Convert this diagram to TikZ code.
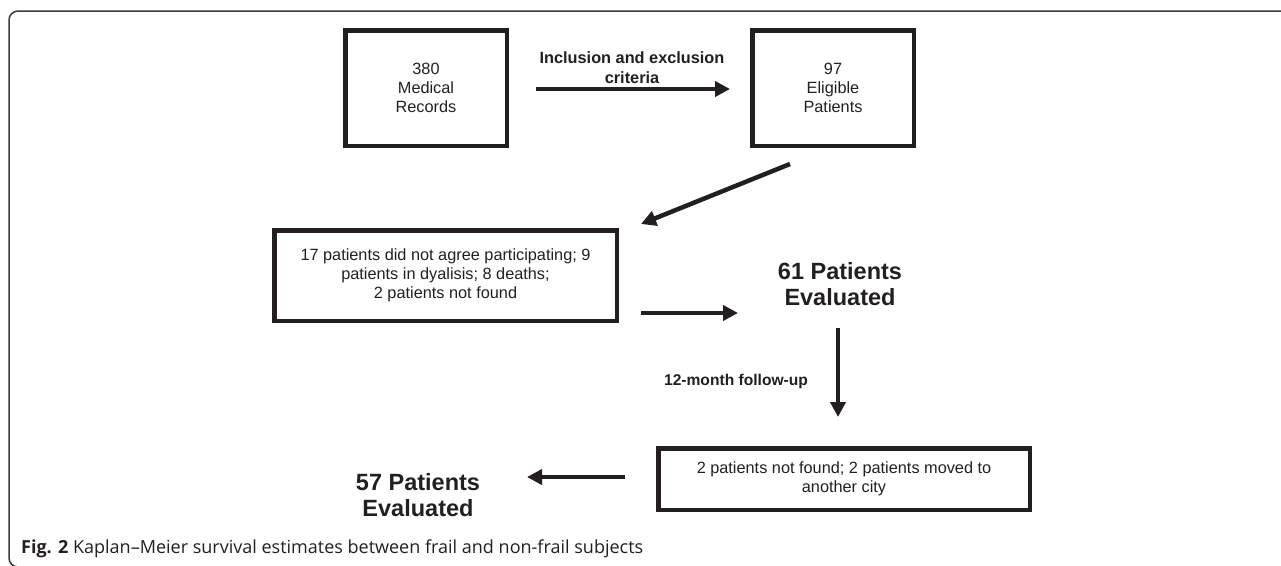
\documentclass[tikz,border=0pt]{standalone}
\usepackage{fontspec}
\setmainfont{Liberation Sans}
\newfontfamily\capfont{Open Sans}
\usetikzlibrary{arrows.meta}
\definecolor{ink}{HTML}{231F20}
\definecolor{framecol}{HTML}{3A3A3A}
\begin{document}
\begin{tikzpicture}[x=1pt,y=-1pt,
  box/.style={draw=ink, line width=4.5pt, inner sep=0pt, align=center, text=ink,
    font=\fontsize{16.3}{19}\selectfont},
  arr/.style={draw=ink, line width=4.5pt, -{Triangle[length=15pt,width=15pt]}},
  lbl/.style={text=ink, align=center, inner sep=0pt, font=\bfseries\fontsize{16.3}{20}\selectfont},
  big/.style={text=ink, align=center, inner sep=0pt, font=\bfseries\fontsize{23.5}{26}\selectfont}]
\useasboundingbox (0,0) rectangle (1281,565);
\begin{scope}
  \clip (0,0) rectangle (1281,565);
  \draw[framecol, line width=1.5pt, rounded corners=9pt] (9,11) rectangle (1300,567);
\end{scope}
% boxes
\node[box, minimum width=161.5pt, minimum height=115.5pt] (b1) at (426,88) {380\\Medical\\Records};
\node[box, minimum width=161.5pt, minimum height=115.5pt] (b2) at (833,88) {97\\Eligible\\Patients};
\node[box, minimum width=342.5pt, minimum height=90.5pt] (b3) at (445.5,275.5)
  {17 patients did not agree participating; 9\\patients in dyalisis; 8 deaths;\\2 patients not found};
\node[box, minimum width=371.5pt, minimum height=61.5pt] (b4) at (844,479)
  {2 patients not found; 2 patients moved to\\another city};
% texts
\node[lbl] (l1) at (632,68) {Inclusion and exclusion\\criteria};
\node[lbl, font=\bfseries\fontsize{15.6}{19}\selectfont] (l2) at (736,381) {12-month follow-up};
\node[big] (t61) at (840,284) {61 Patients\\Evaluated};
\node[big] (t57) at (418,495) {57 Patients\\Evaluated};
% arrow end points
\coordinate (a1s) at (536,89);
\coordinate (a1e) at (730,89);
\coordinate (a2s) at (790,164);
\coordinate (a2e) at (641,224);
\coordinate (a3s) at (641,313);
\coordinate (a3e) at (738,313);
\coordinate (a4s) at (838,328);
\coordinate (a4e) at (838,417);
\coordinate (a5s) at (625,477);
\coordinate (a5e) at (527,477);
\draw[arr] (a1s) -- (a1e);
\draw[arr] (a2s) -- (a2e);
\draw[arr] (a3s) -- (a3e);
\draw[arr] (a4s) -- (a4e);
\draw[arr] (a5s) -- (a5e);
% caption
\node[anchor=west, inner sep=0pt, text=ink, font=\capfont\fontsize{18}{21}\selectfont] (cap) at (21,549)
  {\textbf{Fig. 2} Kaplan–Meier survival estimates between frail and non-frail subjects};
\end{tikzpicture}
\end{document}
